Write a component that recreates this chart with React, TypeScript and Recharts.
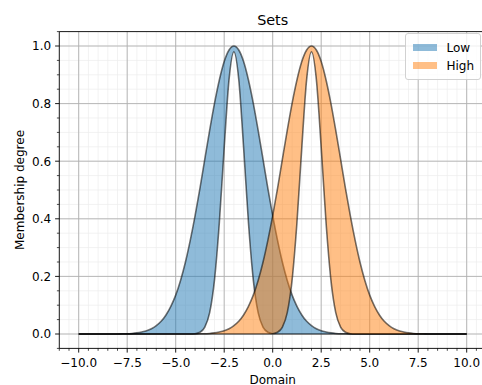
import React from "react";
import {
  ComposedChart,
  Area,
  XAxis,
  YAxis,
  CartesianGrid,
  ReferenceLine,
} from "recharts";

// domain samples, step 0.25 from -10 to 10
const domainValues = [
  -10, -9.75, -9.5, -9.25, -9, -8.75, -8.5, -8.25,
  -8, -7.75, -7.5, -7.25, -7, -6.75, -6.5, -6.25,
  -6, -5.75, -5.5, -5.25, -5, -4.75, -4.5, -4.25,
  -4, -3.75, -3.5, -3.25, -3, -2.75, -2.5, -2.25,
  -2, -1.75, -1.5, -1.25, -1, -0.75, -0.5, -0.25,
  0, 0.25, 0.5, 0.75, 1, 1.25, 1.5, 1.75,
  2, 2.25, 2.5, 2.75, 3, 3.25, 3.5, 3.75,
  4, 4.25, 4.5, 4.75, 5, 5.25, 5.5, 5.75,
  6, 6.25, 6.5, 6.75, 7, 7.25, 7.5, 7.75,
  8, 8.25, 8.5, 8.75, 9, 9.25, 9.5, 9.75,
  10,
];

// "Low" set: upper and lower membership
const lowUpper = [
  0, 0, 0, 0, 0, 0, 0, 0,
  0, 0.001, 0.001, 0.002, 0.004, 0.007, 0.011, 0.018,
  0.029, 0.044, 0.066, 0.096, 0.135, 0.186, 0.249, 0.325,
  0.411, 0.506, 0.607, 0.707, 0.801, 0.882, 0.946, 0.986,
  1, 0.986, 0.946, 0.882, 0.801, 0.707, 0.607, 0.506,
  0.411, 0.325, 0.249, 0.186, 0.135, 0.096, 0.066, 0.044,
  0.029, 0.018, 0.011, 0.007, 0.004, 0.002, 0.001, 0.001,
  0, 0, 0, 0, 0, 0, 0, 0,
  0, 0, 0, 0, 0, 0, 0, 0,
  0, 0, 0, 0, 0, 0, 0, 0,
  0,
];
const lowLower = [
  0, 0, 0, 0, 0, 0, 0, 0,
  0, 0, 0, 0, 0, 0, 0, 0,
  0, 0, 0, 0, 0, 0, 0, 0,
  0.001, 0.006, 0.024, 0.074, 0.188, 0.387, 0.648, 0.884,
  0.98, 0.884, 0.648, 0.387, 0.188, 0.074, 0.024, 0.006,
  0.001, 0, 0, 0, 0, 0, 0, 0,
  0, 0, 0, 0, 0, 0, 0, 0,
  0, 0, 0, 0, 0, 0, 0, 0,
  0, 0, 0, 0, 0, 0, 0, 0,
  0, 0, 0, 0, 0, 0, 0, 0,
  0,
];

// "High" set
const highUpper = [
  0, 0, 0, 0, 0, 0, 0, 0,
  0, 0, 0, 0, 0, 0, 0, 0,
  0, 0, 0, 0, 0, 0, 0, 0,
  0, 0.001, 0.001, 0.002, 0.004, 0.007, 0.011, 0.018,
  0.029, 0.044, 0.066, 0.096, 0.135, 0.186, 0.249, 0.325,
  0.411, 0.506, 0.607, 0.707, 0.801, 0.882, 0.946, 0.986,
  1, 0.986, 0.946, 0.882, 0.801, 0.707, 0.607, 0.506,
  0.411, 0.325, 0.249, 0.186, 0.135, 0.096, 0.066, 0.044,
  0.029, 0.018, 0.011, 0.007, 0.004, 0.002, 0.001, 0.001,
  0, 0, 0, 0, 0, 0, 0, 0,
  0,
];
const highLower = [
  0, 0, 0, 0, 0, 0, 0, 0,
  0, 0, 0, 0, 0, 0, 0, 0,
  0, 0, 0, 0, 0, 0, 0, 0,
  0, 0, 0, 0, 0, 0, 0, 0,
  0, 0, 0, 0, 0, 0, 0, 0,
  0.001, 0.006, 0.024, 0.074, 0.188, 0.387, 0.648, 0.884,
  0.98, 0.884, 0.648, 0.387, 0.188, 0.074, 0.024, 0.006,
  0.001, 0, 0, 0, 0, 0, 0, 0,
  0, 0, 0, 0, 0, 0, 0, 0,
  0, 0, 0, 0, 0, 0, 0, 0,
  0,
];

const xMajor = [-10, -7.5, -5, -2.5, 0, 2.5, 5, 7.5, 10];
const yMajor = [0, 0.2, 0.4, 0.6, 0.8, 1.0];
const xMinor = Array.from({ length: 45 }, (_, i) => -11 + i * 0.5);
const yMinor = Array.from({ length: 23 }, (_, i) => Number(((i - 1) * 0.05).toFixed(2)));

const rows = domainValues.map((x, i) => ({
  x,
  low: [lowLower[i], lowUpper[i]],
  high: [highLower[i], highUpper[i]],
}));

const FONT = "DejaVu Sans, sans-serif";
const FS = 12;
const fmt = (v: number) => v.toFixed(1).replace("-", "\u2212");
const onStep = (v: number, step: number) =>
  Math.abs(v / step - Math.round(v / step)) < 1e-6;

const XTick = (props: any) => {
  const { x, y, payload } = props;
  const v = payload.value;
  const major = onStep(v, 2.5) && Math.abs(v) <= 10;
  return (
    <g>
      <line x1={x} x2={x} y1={y} y2={y + (major ? 4.2 : 2.4)} stroke="#000" strokeWidth={major ? 0.9 : 0.7} />
      {major && (
        <text x={x} y={y + 18.6} textAnchor="middle" fontSize={FS} fill="#000" fontFamily={FONT}>
          {fmt(v)}
        </text>
      )}
    </g>
  );
};

const YTick = (props: any) => {
  const { x, y, payload } = props;
  const v = payload.value;
  const major = onStep(v, 0.2) && v >= 0 && v <= 1;
  return (
    <g>
      <line x1={x} x2={x - (major ? 4.2 : 2.4)} y1={y} y2={y} stroke="#000" strokeWidth={major ? 0.9 : 0.7} />
      {major && (
        <text x={x - 8.2} y={y} dy="0.36em" textAnchor="end" fontSize={FS} fill="#000" fontFamily={FONT}>
          {fmt(v)}
        </text>
      )}
    </g>
  );
};

export default function App() {
  return (
    <div style={{ position: "absolute", left: 0, top: 0, width: 482, height: 385, overflow: "hidden", background: "#fff" }}>
      <ComposedChart
        width={490}
        height={385}
        data={rows}
        margin={{ top: 31.6, right: 3.9, bottom: 0, left: 0 }}
        style={{ fontFamily: FONT }}
      >
        <CartesianGrid verticalValues={xMinor} horizontalValues={yMinor} stroke="#ececec" strokeWidth={0.7} />
        <CartesianGrid verticalValues={xMajor} horizontalValues={yMajor} stroke="#b0b0b0" strokeWidth={0.9} />
        <XAxis
          type="number"
          dataKey="x"
          domain={[-11, 11]}
          ticks={xMinor}
          interval={0}
          tick={XTick}
          tickLine={false}
          tickSize={0}
          tickMargin={0}
          height={36.6}
          allowDataOverflow
          axisLine={{ stroke: "#000", strokeWidth: 0.9 }}
        />
        <YAxis
          type="number"
          domain={[-0.05, 1.05]}
          ticks={yMinor}
          interval={0}
          tick={YTick}
          tickLine={false}
          tickSize={0}
          tickMargin={0}
          width={59.3}
          allowDataOverflow
          axisLine={{ stroke: "#000", strokeWidth: 0.9 }}
        />
        <ReferenceLine y={1.05} stroke="#000" strokeWidth={0.9} />
        <Area
          type="monotone"
          dataKey="low"
          fill="#1f77b4"
          fillOpacity={0.5}
          stroke="#000"
          strokeOpacity={0.55}
          strokeWidth={1.6}
          dot={false}
          activeDot={false}
          isAnimationActive={false}
        />
        <Area
          type="monotone"
          dataKey="high"
          fill="#ff7f0e"
          fillOpacity={0.5}
          stroke="#000"
          strokeOpacity={0.55}
          strokeWidth={1.6}
          dot={false}
          activeDot={false}
          isAnimationActive={false}
        />
        <text x={272.7} y={24.5} textAnchor="middle" fontSize={14.4} fill="#000" fontFamily={FONT}>
          Sets
        </text>
        <text x={272.7} y={383.5} textAnchor="middle" fontSize={FS} fill="#000" fontFamily={FONT}>
          Domain
        </text>
        <text
          x={19.5}
          y={190}
          textAnchor="middle"
          dy="0.36em"
          fontSize={FS}
          fill="#000"
          fontFamily={FONT}
          transform="rotate(-90 19.5 190)"
        >
          Membership degree
        </text>
        <g>
          <rect x={405.5} y={33.5} width={75} height={46} rx={2.5} fill="#fff" fillOpacity={0.8} stroke="#cccccc" strokeWidth={0.9} />
          <rect x={413} y={44} width={24} height={7} fill="#1f77b4" fillOpacity={0.5} />
          <text x={446.5} y={51.5} fontSize={FS} fill="#000" fontFamily={FONT}>
            Low
          </text>
          <rect x={413} y={62} width={24} height={7} fill="#ff7f0e" fillOpacity={0.5} />
          <text x={446.5} y={70} fontSize={FS} fill="#000" fontFamily={FONT}>
            High
          </text>
        </g>
      </ComposedChart>
    </div>
  );
}
